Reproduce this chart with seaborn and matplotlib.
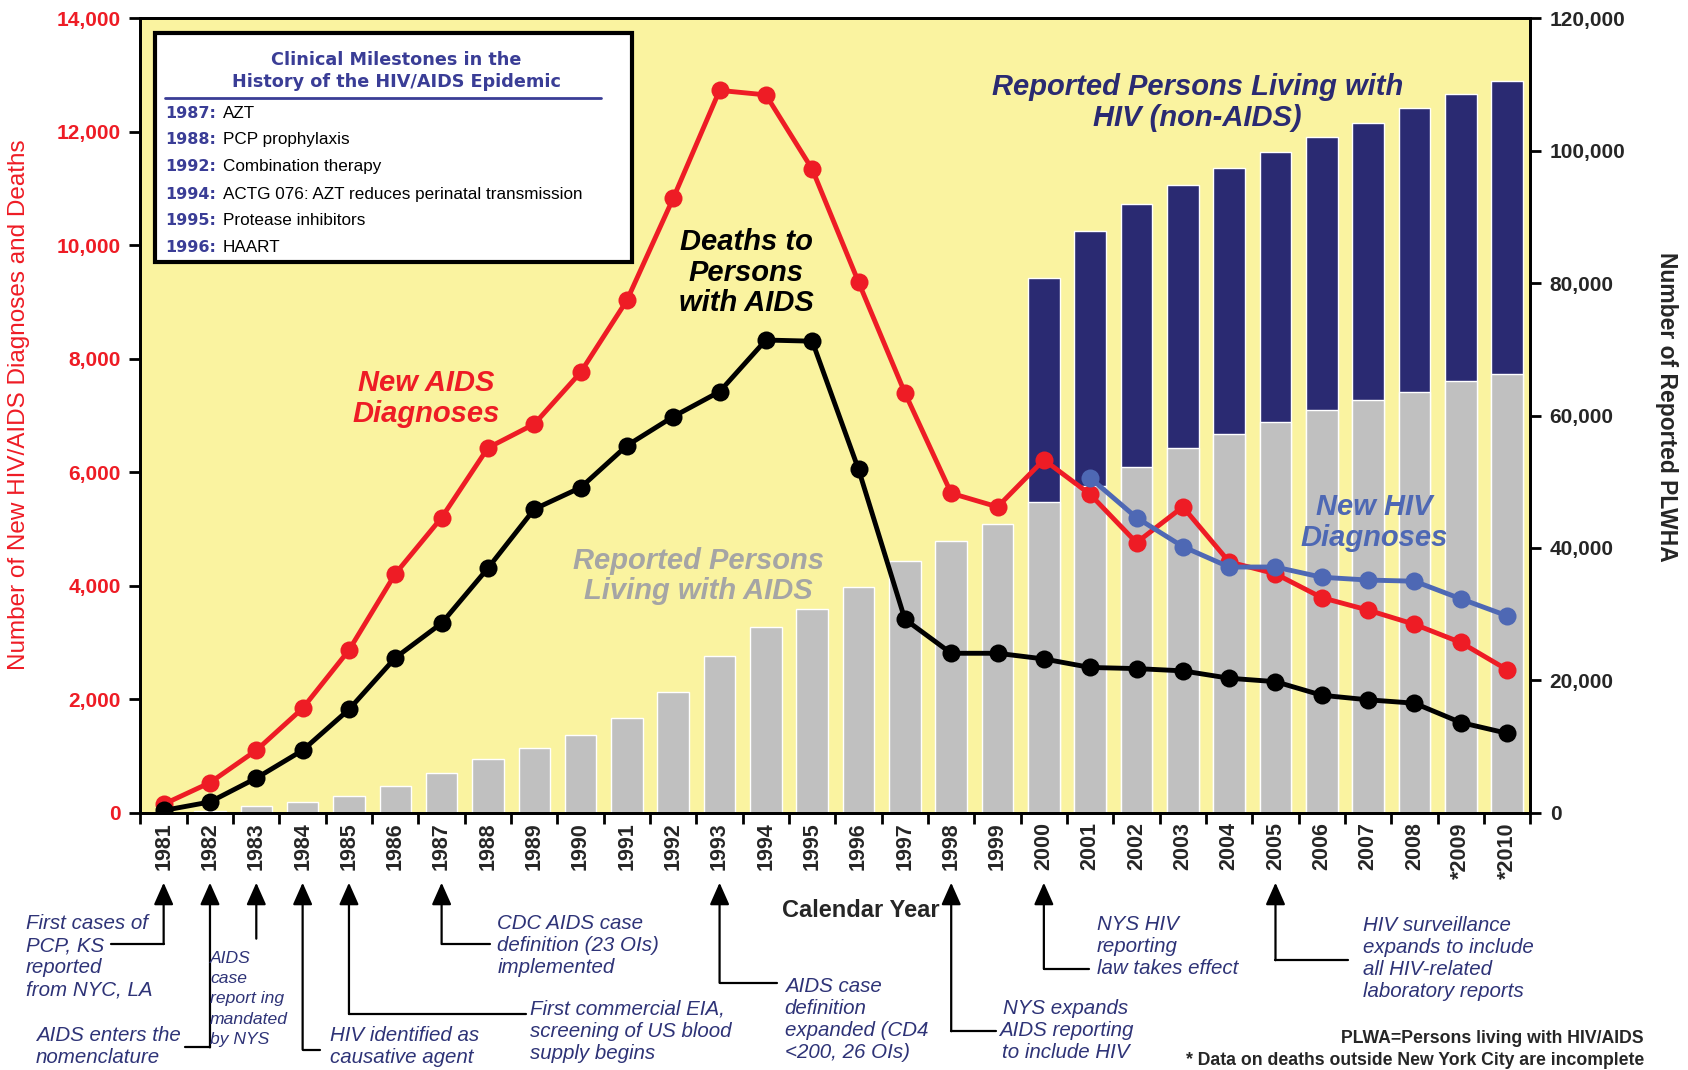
import matplotlib
matplotlib.use("Agg")
import matplotlib.pyplot as plt
from matplotlib.lines import Line2D
from matplotlib.patches import Rectangle
import numpy as np
import pandas as pd
import seaborn as sns

# ---- data ----
years = list(range(1981, 2011))
year_labels = [str(y) for y in years[:-2]] + ["*2009", "*2010"]

new_aids = [150, 530, 1100, 1840, 2865, 4210, 5200, 6430, 6850, 7760,
            9030, 10830, 12730, 12650, 11340, 9350, 7400, 5630, 5390, 6220,
            5610, 4760, 5390, 4420, 4210, 3790, 3570, 3320, 3000, 2520]
deaths = [40, 190, 610, 1100, 1820, 2730, 3340, 4310, 5350, 5730,
          6470, 6980, 7420, 8330, 8310, 6050, 3410, 2810, 2810, 2710,
          2560, 2540, 2500, 2370, 2310, 2070, 1990, 1930, 1590, 1400]
new_hiv_years = list(range(2001, 2011))
new_hiv = [5900, 5200, 4690, 4330, 4330, 4150, 4100, 4080, 3770, 3470]

plwa = [0, 200, 1000, 1600, 2600, 4100, 6000, 8100, 9800, 11700,
        14300, 18200, 23600, 28000, 30700, 34100, 38000, 41000, 43600, 47000,
        49300, 52200, 55100, 57200, 59000, 60800, 62300, 63600, 65200, 66200]
plwha_years = list(range(2000, 2011))
plwha_total = [80800, 87800, 91900, 94800, 97400, 99800, 102100, 104200,
               106500, 108600, 110600]

milestone_years = ["1987:", "1988:", "1992:", "1994:", "1995:", "1996:"]
milestone_text = ["AZT", "PCP prophylaxis", "Combination therapy",
                  "ACTG 076: AZT reduces perinatal transmission",
                  "Protease inhibitors", "HAART"]

RED = "#EE1C25"
NAVY = "#2A2A72"
GRAY = "#C0C0C0"
BLUE = "#4E68B4"
YELLOW = "#FAF3A0"
NOTE = "#2E3377"
TITLE_BLUE = "#3A3D96"

sns.set_theme(style="white")
plt.rcParams["font.family"] = ["Liberation Sans", "DejaVu Sans"]

# placement helpers in reference pixel coords (1568 x 994 view)
W, H = 1568.0, 994.0


def fx(x):
    return x / W


def fy(y):
    return 1 - y / H


fig = plt.figure(figsize=(16.88, 10.70), dpi=100)
ax = fig.add_axes([fx(130.5), fy(755), fx(1421.5) - fx(130.5), fy(17) - fy(755)])
ax.set_facecolor(YELLOW)

# bars (right axis)
df_bars = pd.DataFrame({"year": year_labels, "plwa": plwa})
df_tot = pd.DataFrame({"year": [year_labels[years.index(y)] for y in plwha_years],
                       "total": plwha_total})
sns.barplot(data=df_tot, x="year", y="total", order=year_labels, color=NAVY,
            saturation=1, width=0.68, errorbar=None, ax=ax)
sns.barplot(data=df_bars, x="year", y="plwa", order=year_labels, color=GRAY,
            saturation=1, width=0.68, errorbar=None, ax=ax)

ax2 = ax.twinx()
x_all = np.arange(len(years))
x_hiv = np.array([years.index(y) for y in new_hiv_years])
sns.lineplot(x=x_all, y=new_aids, color=RED, lw=3.5, marker="o", markersize=13,
             markeredgewidth=0, ax=ax2)
sns.lineplot(x=x_all, y=deaths, color="black", lw=3.5, marker="o", markersize=13,
             markeredgewidth=0, ax=ax2)
sns.lineplot(x=x_hiv, y=new_hiv, color=BLUE, lw=3.5, marker="o", markersize=13,
             markeredgewidth=0, ax=ax2)

ax.set_xlim(-0.5, len(years) - 0.5)
ax2.set_xlim(-0.5, len(years) - 0.5)
ax.set_ylim(0, 120000)
ax2.set_ylim(0, 14000)
ax.set_xlabel("")
ax.set_ylabel("")
ax2.set_ylabel("")

# x axis: labels at bars, tick marks between bars
ax.set_xticks(x_all)
ax.set_xticklabels(year_labels, rotation=90, fontsize=15.5, fontweight="bold")
ax.set_xticks(np.arange(-0.5, len(years), 1.0), minor=True)
ax.tick_params(axis="x", which="major", length=0, pad=7)
ax.tick_params(axis="x", which="minor", bottom=True, length=8, width=2,
               direction="out", color="black")

# right axis (PLWHA)
ax.yaxis.tick_right()
ax.set_yticks(np.arange(0, 120001, 20000))
ax.set_yticklabels([f"{v:,}" for v in range(0, 120001, 20000)],
                   fontsize=15, fontweight="bold")
ax.tick_params(axis="y", right=True, left=False, labelright=True, labelleft=False,
               length=8, width=2, direction="out", color="black", pad=6)

# left axis (diagnoses / deaths)
ax2.yaxis.tick_left()
ax2.set_yticks(np.arange(0, 14001, 2000))
ax2.set_yticklabels([f"{v:,}" for v in range(0, 14001, 2000)],
                    fontsize=15, fontweight="bold", color=RED)
ax2.tick_params(axis="y", left=True, right=False, labelleft=True, labelright=False,
                length=8, width=2, direction="out", color="black", pad=6)

for a in (ax, ax2):
    for s in a.spines.values():
        s.set_color("black")
        s.set_linewidth(2)

fig.text(fx(18), fy(376), "Number of New HIV/AIDS Diagnoses and Deaths",
         rotation=90, ha="center", va="center", fontsize=17.5, color=RED)
fig.text(fx(1548), fy(378), "Number of Reported PLWHA", rotation=-90,
         ha="center", va="center", fontsize=16.5, fontweight="bold")
fig.text(fx(800), fy(846), "Calendar Year", ha="center", va="center",
         fontsize=17, fontweight="bold")

# series labels
kw = dict(ha="center", va="center", fontsize=21, fontweight="bold",
          style="italic", linespacing=1.12)
ax2.text(5.67, 7300, "New AIDS\nDiagnoses", color=RED, **kw)
ax2.text(12.57, 9520, "Deaths to\nPersons\nwith AIDS", color="black", **kw)
ax2.text(11.55, 4170, "Reported Persons\nLiving with AIDS", color="#A5A5A5", **kw)
ax2.text(22.31, 12520, "Reported Persons Living with\nHIV (non-AIDS)", color=NAVY, **kw)
ax2.text(26.14, 5120, "New HIV\nDiagnoses", color=BLUE, **kw)

# milestones box
fig.add_artist(Rectangle((fx(144), fy(243)), fx(587) - fx(144), fy(31) - fy(243),
                         transform=fig.transFigure, facecolor="white",
                         edgecolor="black", lw=3, zorder=3))
fig.text(fx(368), fy(66), "Clinical Milestones in the\nHistory of the HIV/AIDS Epidemic",
         ha="center", va="center", fontsize=12.7, fontweight="bold",
         family="DejaVu Sans", color=TITLE_BLUE, linespacing=1.35, zorder=4)
fig.add_artist(Line2D([fx(153), fx(558)], [fy(91), fy(91)], color=TITLE_BLUE,
                      lw=2, transform=fig.transFigure, zorder=4))
item_y = [105, 130, 155, 181, 205, 230]
for yr, txt, yy in zip(milestone_years, milestone_text, item_y):
    fig.text(fx(153), fy(yy), yr, ha="left", va="center", fontsize=11.5,
             fontweight="bold", family="DejaVu Sans", color=TITLE_BLUE, zorder=4)
    fig.text(fx(207), fy(yy), txt, ha="left", va="center", fontsize=12.3,
             color="black", zorder=4)


# event arrows below the axis
def xfig(i):
    return fig.transFigure.inverted().transform(ax.transData.transform((i, 0)))[0]


events = [
    (1981, 877, 103, "First cases of\nPCP, KS\nreported\nfrom NYC, LA", 24, 889, "left", 14.8),
    (1982, 973, 172, "AIDS enters the\nnomenclature", 33, 972, "left", 14.8),
    (1983, 872, None, "AIDS\ncase\nreport ing\nmandated\nby NYS", 195, 928, "left", 12.6),
    (1984, 975, 297, "HIV identified as\ncausative agent", 307, 972, "left", 14.8),
    (1985, 942, 489, "First commercial EIA,\nscreening of US blood\nsupply begins", 492, 958, "left", 14.8),
    (1987, 877, 455, "CDC AIDS case\ndefinition (23 OIs)\nimplemented", 462, 878, "left", 14.8),
    (1993, 913, 722, "AIDS case\ndefinition\nexpanded (CD4\n<200, 26 OIs)", 729, 947, "left", 14.8),
    (1998, 958, 925, "NYS expands\nAIDS reporting\nto include HIV", 990, 957, "center", 14.8),
    (2000, 900, 1012, "NYS HIV\nreporting\nlaw takes effect", 1019, 879, "left", 14.8),
    (2005, 892, 1252, "HIV surveillance\nexpands to include\nall HIV-related\nlaboratory reports", 1266, 890, "left", 14.8),
]
for yr, corner, xend, label, tx, ty, ha, fs in events:
    xf = xfig(years.index(yr))
    ax2.annotate("", xy=(xf, fy(820)), xytext=(xf, fy(corner)),
                 xycoords="figure fraction", textcoords="figure fraction",
                 annotation_clip=False,
                 arrowprops=dict(arrowstyle="-|>,head_length=0.9,head_width=0.4",
                                 mutation_scale=15, color="black", lw=1.6,
                                 shrinkA=0, shrinkB=0))
    if xend is not None:
        fig.add_artist(Line2D([xf, fx(xend)], [fy(corner), fy(corner)], color="black",
                              lw=1.6, transform=fig.transFigure))
    fig.text(fx(tx), fy(ty), label, ha=ha, va="center", fontsize=fs,
             style="italic", color=NOTE, linespacing=1.2 if fs > 13 else 1.45)

fig.text(fx(1527), fy(965), "PLWA=Persons living with HIV/AIDS", ha="right",
         va="center", fontsize=12.7, fontweight="bold")
fig.text(fx(1527), fy(985), "* Data on deaths outside New York City are incomplete",
         ha="right", va="center", fontsize=12.7, fontweight="bold")

fig.savefig("out.png", dpi=100)
